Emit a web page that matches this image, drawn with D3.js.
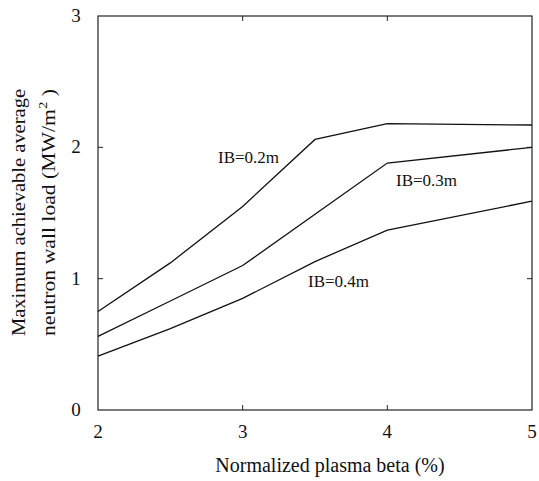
<!DOCTYPE html>
<html>
<head>
<meta charset="utf-8">
<script src="https://cdn.jsdelivr.net/npm/d3@7"></script>
<style>
  body { margin: 0; background: #fff; }
  text { font-family: "Liberation Serif", "Times New Roman", serif; fill: #111; }
</style>
</head>
<body>
<div id="chart"></div>
<script>
const betaValues = [2, 2.5, 3, 3.5, 4, 5]
const ib02 = [0.75, 1.12, 1.55, 2.06, 2.18, 2.17]
const ib03 = [0.56, 0.83, 1.10, 1.49, 1.88, 2.00]
const ib04 = [0.41, 0.62, 0.85, 1.13, 1.37, 1.59]
const seriesNames = ['IB=0.2m', 'IB=0.3m', 'IB=0.4m']
const xTicks = [2, 3, 4, 5]
const yTicks = [0, 1, 2, 3]

const width = 539, height = 481
const margin = { top: 16, right: 7, bottom: 71, left: 98 }

const svg = d3.select('#chart').append('svg')
  .attr('width', width)
  .attr('height', height)

const x = d3.scaleLinear().domain([2, 5]).range([margin.left, width - margin.right])
const y = d3.scaleLinear().domain([0, 3]).range([height - margin.bottom, margin.top])

// frame
svg.append('rect')
  .attr('x', x(2)).attr('y', y(3))
  .attr('width', x(5) - x(2)).attr('height', y(0) - y(3))
  .attr('fill', 'none').attr('stroke', '#222').attr('stroke-width', 1.2)

// inward ticks on all sides
const tickLen = 5
svg.append('g').selectAll('line').data(xTicks.slice(1, -1)).enter().append('line')
  .attr('x1', d => x(d)).attr('x2', d => x(d))
  .attr('y1', y(0)).attr('y2', y(0) - tickLen)
  .attr('stroke', '#222')
svg.append('g').selectAll('line').data(xTicks.slice(1, -1)).enter().append('line')
  .attr('x1', d => x(d)).attr('x2', d => x(d))
  .attr('y1', y(3)).attr('y2', y(3) + tickLen)
  .attr('stroke', '#222')
svg.append('g').selectAll('line').data(yTicks.slice(1, -1)).enter().append('line')
  .attr('x1', x(2)).attr('x2', x(2) + tickLen)
  .attr('y1', d => y(d)).attr('y2', d => y(d))
  .attr('stroke', '#222')
svg.append('g').selectAll('line').data(yTicks.slice(1, -1)).enter().append('line')
  .attr('x1', x(5)).attr('x2', x(5) - tickLen)
  .attr('y1', d => y(d)).attr('y2', d => y(d))
  .attr('stroke', '#222')

// tick labels
svg.append('g').selectAll('text').data(xTicks).enter().append('text')
  .attr('x', d => x(d)).attr('y', y(0) + 28)
  .attr('text-anchor', 'middle')
  .style('font-size', '19px')
  .text(d => d)
svg.append('g').selectAll('text').data(yTicks).enter().append('text')
  .attr('x', 76).attr('y', d => y(d) + 6)
  .attr('text-anchor', 'middle')
  .style('font-size', '19px')
  .text(d => d)

// axis titles
svg.append('text')
  .attr('x', 330).attr('y', 472)
  .attr('text-anchor', 'middle')
  .style('font-size', '20px')
  .text('Normalized plasma beta (%)')

// y title is a bit squeezed along its length in the original scan
const yTitle = svg.append('g').attr('transform', 'translate(0,213) rotate(-90)')
yTitle.append('text')
  .attr('x', -123).attr('y', 25)
  .attr('textLength', 247)
  .attr('lengthAdjust', 'spacingAndGlyphs')
  .style('font-size', '19px')
  .text('Maximum achievable average')
const t2 = yTitle.append('text')
  .attr('x', -123).attr('y', 55)
  .attr('textLength', 247)
  .attr('lengthAdjust', 'spacingAndGlyphs')
  .style('font-size', '19px')
t2.append('tspan').text('neutron wall load (MW/m')
t2.append('tspan').attr('dy', -8).style('font-size', '13px').text('2')
t2.append('tspan').attr('dy', 8).text(' )')

// lines
const line = d3.line()
  .x((d, i) => x(betaValues[i]))
  .y(d => y(d))

svg.append('g').selectAll('path').data([ib02, ib03, ib04]).enter().append('path')
  .attr('d', d => line(d))
  .attr('fill', 'none')
  .attr('stroke', '#111')
  .attr('stroke-width', 1.3)

// series labels
const labelPos = [[218, 163], [396, 186], [308, 287]]
svg.append('g').selectAll('text').data(seriesNames).enter().append('text')
  .attr('x', (d, i) => labelPos[i][0])
  .attr('y', (d, i) => labelPos[i][1])
  .style('font-size', '17px')
  .text(d => d)
</script>
</body>
</html>
